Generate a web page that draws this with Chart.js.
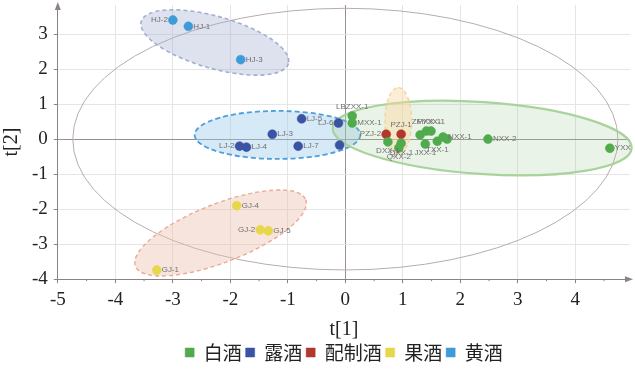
<!DOCTYPE html>
<html>
<head>
<meta charset="utf-8">
<script src="https://cdn.jsdelivr.net/npm/chart.js@4.4.0/dist/chart.umd.min.js"></script>
<style>
  html, body { margin: 0; padding: 0; background: #fff; }
</style>
</head>
<body>
<canvas id="pcaChart" width="635" height="374"></canvas>
<script>
// score values (t[1], t[2])
const seriesNames = ['白酒', '露酒', '配制酒', '果酒', '黄酒'];

const baijiuLabels = ['LBZXX-1', 'MXX-1', 'DXX-1', 'QXX-1', 'QXX-2', '', 'ZMXX-1', 'FYXX-1', 'JXX-1', 'TXX-1', 'NXX-1', '', 'NXX-2', 'YXX'];
const baijiuT1 = [0.12, 0.12, 0.74, 0.97, 0.93, 1.30, 1.41, 1.49, 1.39, 1.60, 1.70, 1.77, 2.48, 4.60];
const baijiuT2 = [0.66, 0.46, -0.08, -0.12, -0.25, 0.12, 0.23, 0.23, -0.14, -0.06, 0.06, 0.00, 0.00, -0.26];

const lujiuLabels = ['LJ-5', 'LJ-6', 'LJ-3', 'LJ-2', 'LJ-4', 'LJ-7', ''];
const lujiuT1 = [-0.76, -0.12, -1.27, -1.84, -1.72, -0.82, -0.10];
const lujiuT2 = [0.58, 0.46, 0.14, -0.20, -0.23, -0.20, -0.17];

const peizhiLabels = ['PZJ-2', 'PZJ-1'];
const peizhiT1 = [0.71, 0.97];
const peizhiT2 = [0.14, 0.14];

const guojiuLabels = ['GJ-4', 'GJ-2', 'GJ-5', 'GJ-1'];
const guojiuT1 = [-1.89, -1.48, -1.34, -3.28];
const guojiuT2 = [-1.90, -2.59, -2.62, -3.74];

const huangjiuLabels = ['HJ-2', 'HJ-1', 'HJ-3'];
const huangjiuT1 = [-3.00, -2.73, -1.82];
const huangjiuT2 = [3.40, 3.22, 2.27];

const xTicks = [-5, -4, -3, -2, -1, 0, 1, 2, 3, 4];
const yTicks = [-4, -3, -2, -1, 0, 1, 2, 3];

// which side of the dot each sample name sits on
const labelSide = {
  'HJ-2': 'l', 'LJ-6': 'l', 'LJ-2': 'l', 'PZJ-2': 'l', 'GJ-2': 'l',
  'LBZXX-1': 't', 'ZMXX-1': 't', 'FYXX-1': 't', 'PZJ-1': 't',
  'DXX-1': 'b', 'QXX-1': 'b', 'QXX-2': 'b', 'JXX-1': 'b', 'TXX-1': 'b'
};

// group ellipses: centre, one end of the long axis (data units), short/long ratio
const regions = [
  { cx: 0, cy: 0, ex: 4.74, ey: 0, ratio: 0.48 },            // Hotelling T2
  { cx: -2.27, cy: 2.76, ex: -0.99, ey: 2.16, ratio: 0.34 }, // 黄酒
  { cx: -1.18, cy: 0.12, ex: 0.26, ey: 0.12, ratio: 0.29 },  // 露酒
  { cx: 2.38, cy: 0.03, ex: 4.98, ey: -0.26, ratio: 0.24 },  // 白酒
  { cx: 0.92, cy: 0.52, ex: 0.92, ey: 1.47, ratio: 0.40 },   // 配制酒
  { cx: -2.17, cy: -2.68, ex: -0.69, ey: -1.73, ratio: 0.32 } // 果酒
];
const regionStyles = [
  { fill: null, stroke: '#b9abab', width: 1, dash: [] },
  { fill: 'rgba(160,172,205,0.35)', stroke: '#9fb0d2', width: 1.6, dash: [4, 3] },
  { fill: 'rgba(150,200,235,0.40)', stroke: '#4b9fdc', width: 1.8, dash: [5, 3] },
  { fill: 'rgba(160,200,145,0.22)', stroke: '#a8d39c', width: 2.2, dash: [] },
  { fill: 'rgba(250,215,160,0.45)', stroke: '#f3d3a0', width: 1.4, dash: [4, 3] },
  { fill: 'rgba(236,190,170,0.40)', stroke: '#e9ab94', width: 1.4, dash: [4, 3] }
];

const colors = ['#50aa4e', '#3a53a4', '#b3372c', '#e6d74b', '#3d9bd7'];

function points(xs, ys) {
  return xs.map(function (x, i) { return { x: x, y: ys[i] }; });
}

const allLabels = [baijiuLabels, lujiuLabels, peizhiLabels, guojiuLabels, huangjiuLabels];
const allData = [
  points(baijiuT1, baijiuT2),
  points(lujiuT1, lujiuT2),
  points(peizhiT1, peizhiT2),
  points(guojiuT1, guojiuT2),
  points(huangjiuT1, huangjiuT2)
];

const ellipsePlugin = {
  id: 'ellipses',
  beforeDatasetsDraw: function (chart) {
    const ctx = chart.ctx, xs = chart.scales.x, ys = chart.scales.y, area = chart.chartArea;
    ctx.save();
    ctx.beginPath();
    ctx.rect(area.left, area.top, area.right - area.left + 4, area.bottom - area.top);
    ctx.clip();
    regions.forEach(function (r, i) {
      const st = regionStyles[i];
      const cx = xs.getPixelForValue(r.cx), cy = ys.getPixelForValue(r.cy);
      const ex = xs.getPixelForValue(r.ex), ey = ys.getPixelForValue(r.ey);
      const a = Math.hypot(ex - cx, ey - cy);
      const ang = Math.atan2(ey - cy, ex - cx);
      ctx.beginPath();
      ctx.ellipse(cx, cy, a, a * r.ratio, ang, 0, Math.PI * 2);
      if (st.fill) { ctx.fillStyle = st.fill; ctx.fill(); }
      ctx.setLineDash(st.dash);
      ctx.lineWidth = st.width;
      ctx.strokeStyle = st.stroke;
      ctx.stroke();
    });
    ctx.restore();
  }
};

const labelPlugin = {
  id: 'sampleNames',
  afterDatasetsDraw: function (chart) {
    const ctx = chart.ctx;
    ctx.save();
    ctx.font = '8px "Liberation Sans", Arial, sans-serif';
    ctx.fillStyle = '#6f6f6f';
    chart.data.datasets.forEach(function (ds, di) {
      const meta = chart.getDatasetMeta(di);
      meta.data.forEach(function (pt, i) {
        const name = allLabels[di][i];
        if (!name) return;
        const side = labelSide[name] || 'r';
        let x = pt.x, y = pt.y;
        if (side === 'r') { ctx.textAlign = 'left'; ctx.textBaseline = 'middle'; x += 5; }
        else if (side === 'l') { ctx.textAlign = 'right'; ctx.textBaseline = 'middle'; x -= 5; }
        else if (side === 't') { ctx.textAlign = 'center'; ctx.textBaseline = 'bottom'; y -= 5; }
        else { ctx.textAlign = 'center'; ctx.textBaseline = 'top'; y += 5; }
        ctx.fillText(name, x, y);
      });
    });
    ctx.restore();
  }
};

const axisArrowPlugin = {
  id: 'axisArrows',
  afterDraw: function (chart) {
    const ctx = chart.ctx, a = chart.chartArea, xs = chart.scales.x;
    ctx.save();
    ctx.fillStyle = '#8d8282';
    ctx.strokeStyle = '#8d8282';
    ctx.lineWidth = 1;
    // x arrow
    ctx.beginPath();
    ctx.moveTo(a.right + 3, a.bottom);
    ctx.lineTo(a.right - 5, a.bottom - 3);
    ctx.lineTo(a.right - 5, a.bottom + 3);
    ctx.closePath();
    ctx.fill();
    // y arrow
    ctx.beginPath();
    ctx.moveTo(a.left, a.top - 3);
    ctx.lineTo(a.left - 3, a.top + 5);
    ctx.lineTo(a.left + 3, a.top + 5);
    ctx.closePath();
    ctx.fill();
    // minor ticks at half steps on the x axis
    ctx.beginPath();
    xTicks.forEach(function (v) {
      const px = xs.getPixelForValue(v + 0.5);
      if (px < a.right - 6) {
        ctx.moveTo(px, a.bottom);
        ctx.lineTo(px, a.bottom + 2);
      }
    });
    ctx.stroke();
    ctx.restore();
  }
};

function gridColor(c) {
  if (c.tick && c.tick.value === 0) return '#9b9090';
  return '#e5e5e5';
}

new Chart(document.getElementById('pcaChart'), {
  type: 'scatter',
  data: {
    datasets: seriesNames.map(function (name, i) {
      return {
        label: name,
        data: allData[i],
        backgroundColor: colors[i],
        borderColor: colors[i],
        borderWidth: 0.5,
        pointRadius: 4.5,
        pointHoverRadius: 4.5
      };
    })
  },
  options: {
    responsive: false,
    devicePixelRatio: 1,
    animation: false,
    layout: { padding: { top: 5, right: 5, left: 0, bottom: 2 } },
    plugins: {
      tooltip: { enabled: false },
      legend: {
        position: 'bottom',
        fullSize: false,
        labels: {
          boxWidth: 9,
          boxHeight: 9,
          padding: 4,
          color: '#222',
          font: { family: '"Noto Sans CJK SC", sans-serif', size: 19 }
        }
      }
    },
    scales: {
      x: {
        type: 'linear',
        min: -5,
        max: 4.95,
        afterBuildTicks: function (s) { s.ticks = xTicks.map(function (v) { return { value: v }; }); },
        ticks: {
          color: '#222',
          padding: 5,
          font: { family: '"Liberation Serif", serif', size: 19 }
        },
        grid: { color: gridColor, tickColor: '#8d8282', tickLength: 4 },
        border: { display: true, color: '#8d8282' },
        title: {
          display: true,
          text: 't[1]',
          color: '#222',
          padding: { top: 2, bottom: -3 },
          font: { family: '"Liberation Serif", serif', size: 20 }
        }
      },
      y: {
        type: 'linear',
        min: -4,
        max: 3.83,
        afterBuildTicks: function (s) { s.ticks = yTicks.map(function (v) { return { value: v }; }); },
        afterFit: function (s) { s.paddingTop = 0; s.paddingBottom = 0; },
        ticks: {
          color: '#222',
          padding: 6,
          font: { family: '"Liberation Serif", serif', size: 19 }
        },
        grid: { color: gridColor, tickColor: '#8d8282', tickLength: 4 },
        border: { display: true, color: '#8d8282' },
        title: {
          display: true,
          text: 't[2]',
          color: '#222',
          padding: { top: 0, bottom: 2 },
          font: { family: '"Liberation Serif", serif', size: 20 }
        }
      }
    }
  },
  plugins: [ellipsePlugin, labelPlugin, axisArrowPlugin]
});
</script>
</body>
</html>
